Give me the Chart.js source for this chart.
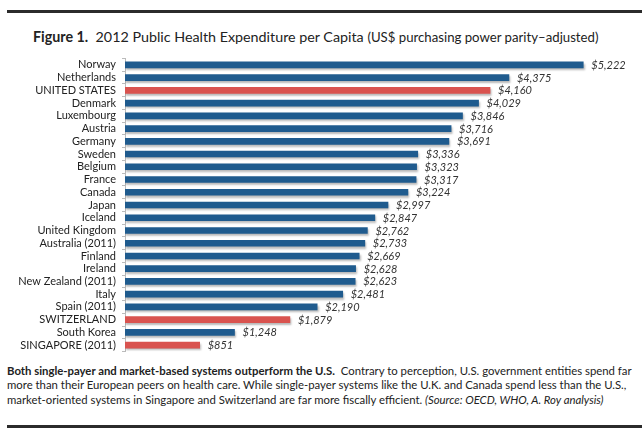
<!DOCTYPE html>
<html>
<head>
<meta charset="utf-8">
<script src="https://cdn.jsdelivr.net/npm/chart.js@4/dist/chart.umd.min.js"></script>
<style>
  html, body { margin: 0; padding: 0; background: #fff; }
  body { width: 642px; height: 436px; position: relative; overflow: hidden; font-family: Lato, 'Open Sans', sans-serif; color: #222; }
  .rule { position: absolute; left: 7px; right: 0; height: 3px; background: #2b2b2b; }
  #title { position: absolute; left: 33px; top: 28px; font-size: 14.3px; white-space: nowrap; }
  #title b { font-weight: 700; }
  #wrap { position: absolute; left: 0; top: 55px; width: 642px; height: 300px; }
  #note { position: absolute; left: 7px; top: 364px; width: 640px; font-size: 11.35px; line-height: 14.3px; white-space: nowrap; }
</style>
</head>
<body>
<div class="rule" style="top:10px"></div>
<div id="title"><b>Figure 1.</b>&nbsp; 2012 Public Health Expenditure per Capita <span style="font-size:13.2px">(US$ purchasing power parity–adjusted)</span></div>
<div id="wrap"><canvas id="chart"></canvas></div>
<div id="note"><b>Both single-payer and market-based systems outperform the U.S.</b>&nbsp; Contrary to perception, U.S. government entities spend far<br>more than their European peers on health care. While single-payer systems like the U.K. and Canada spend less than the U.S.,<br>market-oriented systems in Singapore and Switzerland are far more fiscally efficient. <i>(Source: OECD, WHO, A. Roy analysis)</i></div>
<div class="rule" style="top:425px"></div>
<script>
// countries, top to bottom
const countries = ['Norway', 'Netherlands', 'UNITED STATES', 'Denmark', 'Luxembourg', 'Austria', 'Germany',
  'Sweden', 'Belgium', 'France', 'Canada', 'Japan', 'Iceland', 'United Kingdom', 'Australia (2011)',
  'Finland', 'Ireland', 'New Zealand (2011)', 'Italy', 'Spain (2011)', 'SWITZERLAND', 'South Korea',
  'SINGAPORE (2011)'];
const spending = [5222, 4375, 4160, 4029, 3846, 3716, 3691, 3336, 3323, 3317, 3224, 2997, 2847, 2762,
  2733, 2669, 2628, 2623, 2481, 2190, 1879, 1248, 851];
const highlighted = ['UNITED STATES', 'SWITZERLAND', 'SINGAPORE (2011)'];

const BLUE = '#1f5b8e', RED = '#d9534f';

// light drop shadow under bars
const barShadow = {
  id: 'barShadow',
  beforeDatasetsDraw(chart) {
    const ctx = chart.ctx;
    ctx.save();
    ctx.shadowColor = 'rgba(0,0,0,0.28)';
    ctx.shadowOffsetX = 1;
    ctx.shadowOffsetY = 2;
    ctx.shadowBlur = 2;
  },
  afterDatasetsDraw(chart) { chart.ctx.restore(); }
};

// $ value at the end of each bar
const valueLabels = {
  id: 'valueLabels',
  afterDatasetsDraw(chart) {
    const ctx = chart.ctx;
    ctx.save();
    ctx.fillStyle = '#333';
    ctx.font = 'italic 11px Lato, sans-serif';
    ctx.textBaseline = 'middle';
    chart.getDatasetMeta(0).data.forEach((bar, i) => {
      ctx.fillText('$' + spending[i].toLocaleString('en-US'), bar.x + 8, bar.y + 0.5);
    });
    ctx.restore();
  }
};

new Chart(document.getElementById('chart'), {
  type: 'bar',
  data: {
    labels: countries,
    datasets: [{
      data: spending,
      backgroundColor: countries.map(c => highlighted.includes(c) ? RED : BLUE),
      barThickness: 6,
      borderWidth: 0
    }]
  },
  plugins: [barShadow, valueLabels],
  options: {
    indexAxis: 'y',
    responsive: true,
    maintainAspectRatio: false,
    animation: false,
    layout: { padding: { top: 3.5, bottom: 3.5, right: 8, left: 0 } },
    plugins: { legend: { display: false }, tooltip: { enabled: false } },
    scales: {
      x: { display: false, min: 0, max: 5800 },
      y: {
        afterFit: s => { s.width = 125; s.paddingTop = 0; s.paddingBottom = 0; },
        border: { display: true, color: '#bbb', width: 1 },
        grid: { display: true, drawOnChartArea: false, offset: true, tickLength: 3, color: '#bbb' },
        ticks: { color: '#222', padding: 6, autoSkip: false, font: { family: 'Lato', size: 11 } }
      }
    }
  }
});
</script>
</body>
</html>
